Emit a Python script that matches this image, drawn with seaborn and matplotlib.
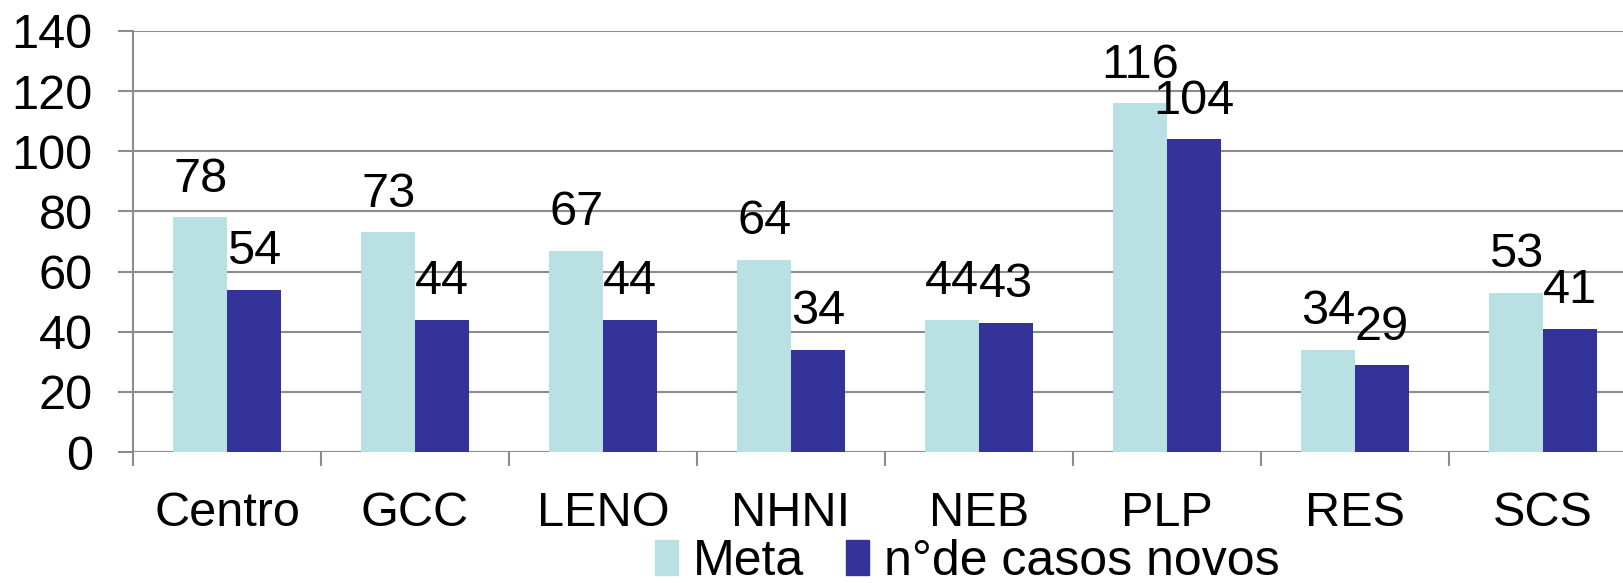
import numpy as np
import pandas as pd
import matplotlib
matplotlib.use("Agg")
import matplotlib.pyplot as plt
from matplotlib.ticker import FixedLocator
import seaborn as sns

categories = ["Centro", "GCC", "LENO", "NHNI", "NEB", "PLP", "RES", "SCS"]
meta = [78, 73, 67, 64, 44, 116, 34, 53]
casos_novos = [54, 44, 44, 34, 43, 104, 29, 41]
series_names = ["Meta", "n°de casos novos"]
colors = ["#B9E1E3", "#333399"]

df = pd.DataFrame({
    "regiao": categories * 2,
    "valor": meta + casos_novos,
    "serie": [series_names[0]] * len(categories) + [series_names[1]] * len(categories),
})

sns.set_style("white")
plt.rcParams["font.family"] = ["Liberation Sans", "DejaVu Sans"]
plt.rcParams["text.color"] = "black"
plt.rcParams["xtick.color"] = "black"
plt.rcParams["ytick.color"] = "black"

W, H, DPI = 1623, 583, 100
fig = plt.figure(figsize=(W / DPI, H / DPI), dpi=DPI)
left, bottom, top = 133 / W, (H - 452) / H, (H - 31) / H
ax = fig.add_axes([left, bottom, 1 - left, top - bottom])

sns.barplot(data=df, x="regiao", y="valor", hue="serie", palette=colors,
            width=0.57, gap=0, saturation=1, linewidth=0, ax=ax, legend=False)

# axis cut off on the right like the reference
cat_px = 188
ax.set_xlim(-0.5, (W - 133) / cat_px - 0.5)
ax.set_ylim(0, 140)
ax.set_yticks(np.arange(0, 141, 20))
ax.yaxis.grid(True, color="#8c8c8c", linewidth=1.5)
ax.set_axisbelow(True)

for s in ["top", "right", "bottom"]:
    ax.spines[s].set_visible(False)
ax.spines["left"].set_color("#8c8c8c")
ax.spines["left"].set_linewidth(1.5)

ax.set_xlabel("")
ax.set_ylabel("")
ax.tick_params(axis="y", left=True, labelsize=35, length=11, width=1.5,
               color="#8c8c8c", labelcolor="black", pad=18)
ax.tick_params(axis="x", which="major", bottom=True, labelsize=35, length=0,
               labelcolor="black", pad=28)
# category boundary ticks (incl. one under the y axis)
ax.xaxis.set_minor_locator(FixedLocator(np.arange(-0.5, 8, 1)))
ax.tick_params(axis="x", which="minor", bottom=True, length=10, width=1.5, color="#8c8c8c")
ax.axhline(0, color="#8c8c8c", linewidth=1.5, zorder=0.5)

for cont in ax.containers:
    ax.bar_label(cont, fontsize=35, padding=11, color="black")

handles = [plt.Rectangle((0, 0), 1, 1, color=c) for c in colors]
fig.legend(handles, series_names, loc="center", bbox_to_anchor=(0.596, 0.036),
           ncol=2, frameon=False, fontsize=36, handlelength=0.45, handleheight=0.7,
           handletextpad=0.3, columnspacing=0.85, borderpad=0)

fig.savefig("out.png", dpi=DPI)
